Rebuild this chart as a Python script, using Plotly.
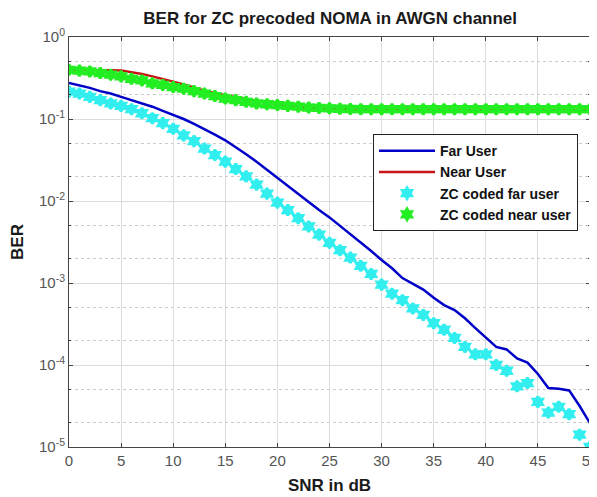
import plotly.graph_objects as go

snr = list(range(0, 51))

far_user_log = [-0.56, -0.59, -0.62, -0.66, -0.69, -0.73, -0.77, -0.81, -0.85, -0.90,
                -0.95, -1.00, -1.06, -1.12, -1.19, -1.26, -1.34, -1.43, -1.52, -1.62,
                -1.72, -1.82, -1.92, -2.02, -2.11, -2.20, -2.30, -2.40, -2.51, -2.61,
                -2.72, -2.82, -2.94, -3.01, -3.08, -3.18, -3.27, -3.33, -3.43, -3.55,
                -3.66, -3.78, -3.81, -3.92, -3.97, -4.11, -4.28, -4.29, -4.31, -4.50,
                -4.71]

near_user_log = [-0.40, -0.40, -0.40, -0.40, -0.405, -0.41, -0.43, -0.45, -0.48, -0.51,
                 -0.545, -0.58, -0.62, -0.655, -0.685, -0.71, -0.74, -0.76, -0.78, -0.80,
                 -0.82, -0.84, -0.855, -0.865, -0.872, -0.878, -0.882, -0.885, -0.887, -0.888,
                 -0.889, -0.89, -0.89, -0.89, -0.89, -0.89, -0.89, -0.89, -0.89, -0.89,
                 -0.89, -0.89, -0.89, -0.89, -0.89, -0.89, -0.89, -0.89, -0.89, -0.89,
                 -0.89]

zc_far_log = [-0.667, -0.69, -0.73, -0.77, -0.81, -0.84, -0.88, -0.93, -0.99, -1.05,
              -1.12, -1.20, -1.27, -1.36, -1.44, -1.52, -1.61, -1.70, -1.80, -1.91,
              -2.02, -2.11, -2.21, -2.31, -2.41, -2.51, -2.60, -2.69, -2.79, -2.89,
              -3.02, -3.13, -3.21, -3.31, -3.39, -3.49, -3.57, -3.67, -3.78, -3.87,
              -3.87, -4.00, -4.07, -4.26, -4.22, -4.45, -4.58, -4.51, -4.60, -4.85,
              -5.00]

zc_near_log = [-0.40, -0.41, -0.42, -0.44, -0.46, -0.48, -0.51, -0.53, -0.565, -0.585,
               -0.61, -0.63, -0.66, -0.69, -0.72, -0.75, -0.77, -0.79, -0.81, -0.82,
               -0.83, -0.84, -0.85, -0.86, -0.865, -0.87, -0.875, -0.878, -0.88, -0.88,
               -0.88, -0.88, -0.88, -0.88, -0.88, -0.88, -0.88, -0.88, -0.88, -0.88,
               -0.88, -0.88, -0.88, -0.88, -0.88, -0.88, -0.88, -0.88, -0.88, -0.88,
               -0.88]

x_ticks = [0, 5, 10, 15, 20, 25, 30, 35, 40, 45, 50]
y_tick_vals = [1e-5, 1e-4, 1e-3, 1e-2, 1e-1, 1e0]
y_tick_text = ["10<sup>-5</sup>", "10<sup>-4</sup>", "10<sup>-3</sup>",
               "10<sup>-2</sup>", "10<sup>-1</sup>", "10<sup>0</sup>"]

def to_lin(v):
    return [10 ** a for a in v]

FONT = "Arial, Liberation Sans, sans-serif"

fig = go.Figure()
fig.add_trace(go.Scatter(x=snr, y=to_lin(far_user_log), mode="lines", name="<b>Far User</b>",
                         line=dict(color="#0000c8", width=2.5)))
fig.add_trace(go.Scatter(x=snr, y=to_lin(near_user_log), mode="lines", name="<b>Near User</b>",
                         line=dict(color="#c81414", width=2.5)))
fig.add_trace(go.Scatter(x=snr, y=to_lin(zc_far_log), mode="markers", name="<b>ZC coded far user</b>",
                         marker=dict(symbol="hexagram", size=8, color="#33eeee",
                                     line=dict(width=3, color="#33eeee"))))
fig.add_trace(go.Scatter(x=snr, y=to_lin(zc_near_log), mode="markers", name="<b>ZC coded near user</b>",
                         marker=dict(symbol="hexagram", size=8, color="#22ee22",
                                     line=dict(width=3, color="#22ee22"))))

axis_font = dict(family=FONT, size=15, color="#555555")

fig.update_layout(
    width=589, height=489,
    margin=dict(l=61, r=7, t=29, b=50),
    paper_bgcolor="white", plot_bgcolor="white",
    title=dict(text="<b>BER for ZC precoded NOMA in AWGN channel</b>",
               x=0.547, xanchor="center", y=0.98, yanchor="middle",
               font=dict(family=FONT, size=17, color="#1a1a1a")),
    font=dict(family=FONT),
    showlegend=True,
    legend=dict(x=0.977, xanchor="right", y=0.763, yanchor="top",
                bgcolor="white", bordercolor="#222222", borderwidth=1,
                font=dict(family=FONT, size=14, color="#111111"),
                itemwidth=56, tracegroupgap=0),
    xaxis=dict(range=[0, 50], tickvals=x_ticks, showgrid=True, gridcolor="#dcdcdc",
               gridwidth=1, zeroline=False, showline=True, linecolor="#444444",
               linewidth=1, mirror="ticks", ticks="inside", ticklen=4,
               tickcolor="#444444", tickfont=axis_font, automargin=False,
               ticklabeloverflow="allow",
               title=dict(text="<b>SNR in dB</b>", standoff=11,
                          font=dict(family=FONT, size=17, color="#1a1a1a"))),
    yaxis=dict(type="log", range=[-5, 0], tickvals=y_tick_vals, ticktext=y_tick_text,
               showgrid=True, gridcolor="#dcdcdc", gridwidth=1, zeroline=False,
               showline=True, linecolor="#444444", linewidth=1, mirror="ticks",
               ticks="inside", ticklen=4, tickcolor="#444444", tickfont=axis_font,
               automargin=False, ticklabeloverflow="allow",
               minor=dict(showgrid=True, gridcolor="#cccccc", griddash="dot",
                          gridwidth=1, ticks="inside", ticklen=2, tickcolor="#444444"),
               title=dict(text="<b>BER</b>", standoff=11,
                          font=dict(family=FONT, size=17, color="#1a1a1a"))),
)

fig.write_html("out.html")
